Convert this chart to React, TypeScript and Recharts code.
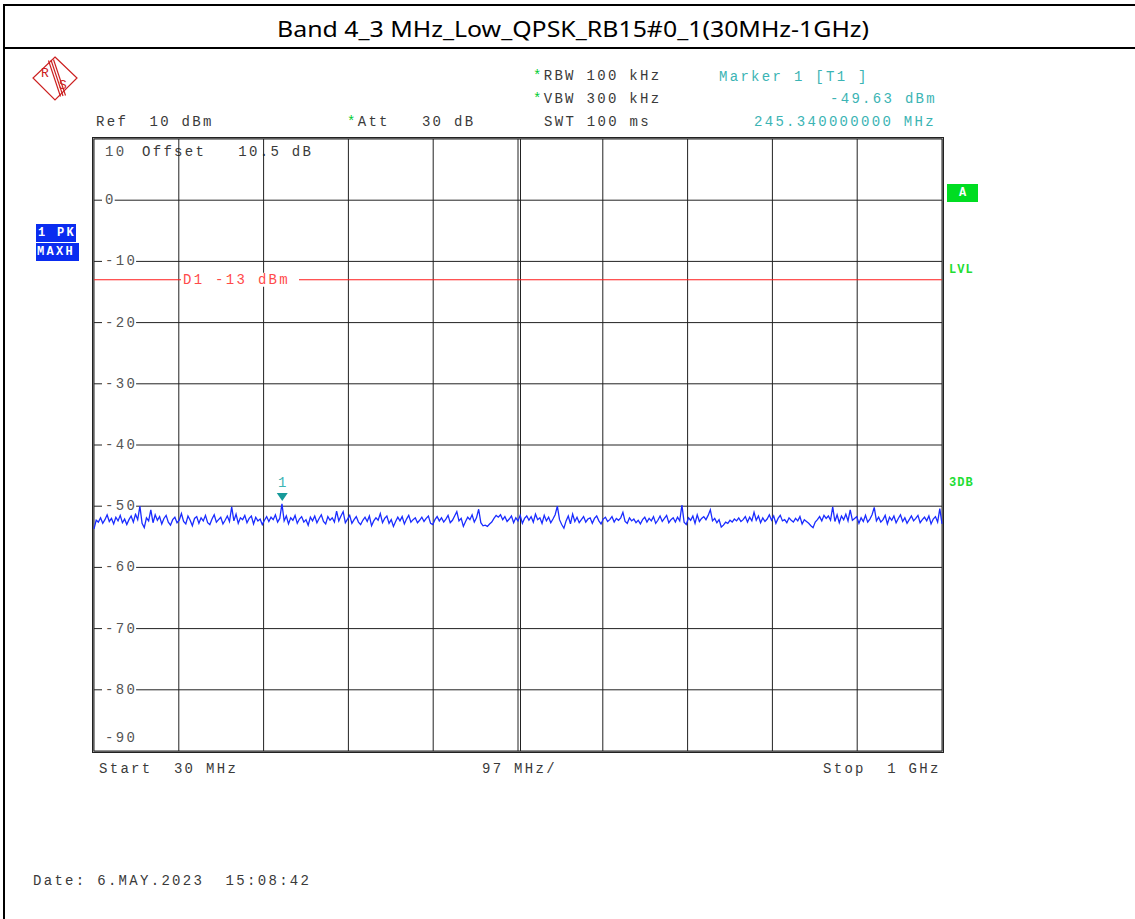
import React from 'react';
import { LineChart, Line, XAxis, YAxis, CartesianGrid, ReferenceLine, ReferenceDot } from 'recharts';

// sweep settings (MHz)
const FREQ_START = 30;
const FREQ_STOP = 1000;
const FREQ_STEP = 2.5;

// max-hold trace in dBm, every 2.5 MHz from 30 MHz
const levels = [
  -53.7, -52.3, -52.6, -51.9, -52.8, -52.2, -51.4, -52.5, -52.0, -52.9,
  -51.8, -52.4, -51.5, -52.7, -52.1, -53.0, -52.2, -51.6, -52.6, -51.3,
  -52.2, -50.0, -52.8, -53.5, -51.9, -52.4, -50.6, -52.7, -51.4, -52.3,
  -51.7, -52.9, -52.0, -51.5, -52.6, -53.1, -52.2, -51.8, -52.7, -52.3,
  -51.2, -52.5, -52.9, -51.6, -52.3, -53.2, -52.0, -51.7, -52.8, -51.9,
  -52.4, -51.5, -52.7, -53.0, -52.1, -51.4, -52.6, -52.2, -51.8, -52.9,
  -52.3, -51.6, -52.5, -50.1, -52.4, -51.3, -52.8, -51.9, -52.2, -51.5,
  -52.7, -52.0, -51.6, -52.9, -51.8, -52.4, -52.1, -53.0, -52.3, -51.7,
  -52.5, -51.8, -52.2, -51.4, -52.6, -52.0, -49.63, -52.4, -51.6, -52.9,
  -51.9, -52.3, -51.5, -52.8, -52.1, -51.7, -52.6, -52.2, -53.1, -51.8,
  -52.4, -51.6, -52.7, -52.0, -51.4, -52.5, -52.9, -51.7, -52.3, -51.9,
  -52.6, -50.8, -52.4, -51.6, -50.9, -52.7, -52.1, -51.5, -52.8, -52.2,
  -51.7, -52.6, -53.0, -52.3, -51.8, -52.5, -51.6, -53.2, -52.4, -51.9,
  -52.3, -51.2, -52.7, -52.0, -51.6, -52.8, -52.2, -53.3, -52.5, -51.8,
  -52.4, -51.7, -52.9, -52.1, -51.5, -52.6, -52.2, -51.9, -52.7, -52.3,
  -51.8, -52.5, -52.0, -51.6, -52.8, -53.0, -52.2, -51.7, -52.4, -51.9,
  -52.6, -52.1, -51.5, -52.7, -52.3, -51.6, -50.9, -52.4, -52.0, -53.3,
  -52.5, -51.8, -52.2, -51.4, -52.6, -51.9, -50.5, -52.7, -53.2, -53.1,
  -53.3, -52.9, -52.6, -52.0, -51.5, -51.8, -51.4, -52.2, -51.7, -52.5,
  -52.1, -51.6, -52.7, -51.9, -52.4, -51.5, -52.8, -52.0, -51.6, -52.3,
  -51.7, -52.6, -51.3, -52.2, -51.9, -52.8, -51.5, -52.4, -51.8, -52.7,
  -52.1, -51.4, -50.0, -52.2, -53.0, -53.6, -52.4, -51.6, -52.9, -51.3,
  -52.5, -51.8, -52.7, -52.2, -51.7, -52.6, -52.1, -51.9, -52.8, -52.0,
  -51.6, -52.4, -52.9, -52.1, -51.8, -52.5, -52.2, -51.7, -52.6, -52.0,
  -52.3, -51.9, -51.0, -52.5, -52.8, -51.9, -52.4, -52.1, -52.7, -52.3,
  -52.9, -52.2, -51.8, -52.6, -52.0, -52.4, -51.7, -52.8, -52.3, -51.6,
  -52.5, -52.0, -51.5, -52.7, -52.2, -51.9, -52.6, -51.8, -52.4, -49.8,
  -52.6, -53.0, -51.9, -52.3, -51.6, -52.8, -51.4, -52.5, -52.0, -51.7,
  -52.2, -51.5, -50.6, -52.4, -52.0, -52.7, -52.2, -53.4, -53.1, -52.6,
  -52.8, -52.3, -52.6, -52.1, -52.4, -51.9, -52.5, -52.2, -51.7, -52.6,
  -51.8, -52.4, -51.0, -52.3, -51.6, -52.7, -51.9, -52.5, -52.1, -51.4,
  -52.3, -51.6, -52.8, -52.0, -51.5, -52.4, -52.2, -52.7, -51.9, -52.3,
  -52.6, -52.0, -52.4, -51.7, -52.9, -52.2, -52.5, -52.8, -53.2, -53.5,
  -52.6, -52.2, -51.7, -52.4, -51.5, -52.0, -51.6, -52.3, -50.1, -52.5,
  -51.4, -52.7, -51.6, -52.2, -51.3, -52.4, -50.6, -52.3, -52.0, -51.7,
  -52.8, -51.9, -52.5, -51.5, -52.6, -52.1, -51.4, -50.2, -52.4, -51.8,
  -52.6, -52.2, -51.5, -52.9, -51.8, -52.3, -51.6, -52.7, -52.0, -51.4,
  -52.5, -51.9, -52.8, -52.2, -51.6, -52.4, -52.0, -51.5, -52.7, -52.2,
  -51.8, -52.4, -51.6, -52.9, -52.1, -51.7, -52.6, -50.4, -52.9,
];

const xTicks = [30, 127, 224, 321, 418, 515, 612, 709, 806, 903, 1000];
const yTicks = [-90, -80, -70, -60, -50, -40, -30, -20, -10, 0, 10];

const displayLine = -13; // D1
const marker = { freq: 245.34, level: -49.63 };

const trace = levels.map((v, i) => ({ f: FREQ_START + i * FREQ_STEP, v }));

const W = 1135;
const H = 919;
const M = { top: 139, right: 193, bottom: 168, left: 94 };
const PW = W - M.left - M.right;
const PH = H - M.top - M.bottom;

const MONO = '"Liberation Mono", "DejaVu Sans Mono", monospace';
const mono: React.CSSProperties = { fontFamily: MONO, fontSize: 14, letterSpacing: '2.3px', whiteSpace: 'pre' };
const PITCH = 10.7;
const GRAY = '#3a3a3a';
const CYAN = '#3bb4b4';
const GREEN = '#22dd33';
const RS_RED = '#cc2020';

const LevelTick = (props: any) => {
  const { y, payload } = props;
  const v = payload.value as number;
  const label = String(v);
  const yy = v === 10 ? y + 13 : v === -90 ? y - 13 : y;
  const x = M.left + 11;
  return (
    <g>
      <rect x={x - 3} y={yy - 7} width={label.length * PITCH + 2} height={14} fill="#fff" />
      <text x={x} y={yy} dominantBaseline="central" fill="#555" style={mono}>{label}</text>
    </g>
  );
};

const D1Label = (props: any) => {
  const { viewBox } = props;
  const x = viewBox.x + 89;
  const y = viewBox.y;
  return (
    <g>
      <rect x={x - 2} y={y - 7} width={118} height={14} fill="#fff" />
      <text x={x} y={y} dominantBaseline="central" fill="#ff4a4a" style={mono}>D1 -13 dBm</text>
    </g>
  );
};

const MarkerShape = (props: any) => {
  const { cx, cy } = props;
  return (
    <g>
      <polygon points={`${cx - 5.5},${cy - 11} ${cx + 5.5},${cy - 11} ${cx},${cy - 3}`} fill="#169a9a" />
      <text x={cx} y={cy - 21} textAnchor="middle" dominantBaseline="central" fill={CYAN} style={{ ...mono, letterSpacing: 0 }}>1</text>
    </g>
  );
};

const Txt = ({ x, y, children, fill = GRAY }: { x: number; y: number; children: React.ReactNode; fill?: string }) => (
  <text x={x} y={y} dominantBaseline="central" fill={fill} style={mono}>{children}</text>
);

const Backdrop = () => (
  <svg width={W} height={H} style={{ position: 'absolute', left: 0, top: 0 }}>
    {/* page frame and title */}
    <line x1={3} y1={5} x2={W} y2={5} stroke="#000" strokeWidth={2} />
    <line x1={4} y1={4} x2={4} y2={H} stroke="#000" strokeWidth={2} />
    <line x1={3} y1={48} x2={W} y2={48} stroke="#000" strokeWidth={2} />
    <text x={277} y={28} dominantBaseline="central" textLength={592} lengthAdjust="spacingAndGlyphs"
      style={{ fontFamily: '"Noto Sans", "Open Sans", sans-serif', fontSize: 22 }} fill="#000">
      Band 4_3 MHz_Low_QPSK_RB15#0_1(30MHz-1GHz)
    </text>

    {/* R&S logo */}
    <g stroke={RS_RED} fill="none" strokeWidth={1.2}>
      <polygon points="55,57 77,78 55,100 33,78" />
      <line x1={51} y1={60} x2={63} y2={96} />
      <line x1={53.5} y1={59.5} x2={65.5} y2={95.5} />
      <line x1={48.5} y1={60.5} x2={60.5} y2={96.5} />
    </g>
    <text x={45} y={73} textAnchor="middle" dominantBaseline="central" fill={RS_RED} style={{ fontFamily: MONO, fontSize: 13 }}>R</text>
    <text x={63} y={85} textAnchor="middle" dominantBaseline="central" fill={RS_RED} style={{ fontFamily: MONO, fontSize: 13 }}>S</text>

    {/* instrument settings */}
    <Txt x={533} y={76}><tspan fill="#00cc33">*</tspan>RBW 100 kHz</Txt>
    <Txt x={533} y={99}><tspan fill="#00cc33">*</tspan>VBW 300 kHz</Txt>
    <Txt x={544} y={122}>SWT 100 ms</Txt>
    <Txt x={347} y={122}><tspan fill="#00cc33">*</tspan>Att   30 dB</Txt>
    <Txt x={96} y={122}>Ref  10 dBm</Txt>
    <Txt x={719} y={77} fill={CYAN}>Marker 1 [T1 ]</Txt>
    <Txt x={830} y={99} fill={CYAN}>-49.63 dBm</Txt>
    <Txt x={754} y={122} fill={CYAN}>245.340000000 MHz</Txt>
    <Txt x={142} y={152}>Offset   10.5 dB</Txt>

    {/* trace / detector boxes */}
    <rect x={36} y={224} width={40} height={18} fill="#0a2cf0" />
    <rect x={36} y={243} width={43} height={18} fill="#0a2cf0" />
    <text x={38} y={233} dominantBaseline="central" fill="#fff" style={{ fontFamily: MONO, fontSize: 12, fontWeight: 700, letterSpacing: '2.3px', whiteSpace: 'pre' }}>1 PK</text>
    <text x={37} y={252} dominantBaseline="central" fill="#fff" style={{ fontFamily: MONO, fontSize: 12, fontWeight: 700, letterSpacing: '2.3px' }}>MAXH</text>

    <rect x={947} y={184} width={31} height={18} fill="#00dd22" />
    <text x={962.5} y={193} textAnchor="middle" dominantBaseline="central" fill="#fff" style={{ fontFamily: MONO, fontSize: 12, fontWeight: 700 }}>A</text>
    <text x={949} y={270} dominantBaseline="central" fill={GREEN} style={{ fontFamily: MONO, fontSize: 12, fontWeight: 700, letterSpacing: '1px' }}>LVL</text>
    <text x={949} y={483} dominantBaseline="central" fill={GREEN} style={{ fontFamily: MONO, fontSize: 12, fontWeight: 700, letterSpacing: '1px' }}>3DB</text>

    {/* screen frame */}
    <rect x={92.5} y={137.5} width={PW + 3} height={PH + 3} fill="none" stroke="#222" />
    <rect x={93.5} y={138.5} width={PW + 1} height={PH + 1} fill="none" stroke="#999" />
    <line x1={M.left + PW / 2 + 2.5} y1={M.top} x2={M.left + PW / 2 + 2.5} y2={M.top + PH} stroke="#222" />

    {/* span info */}
    <Txt x={99} y={769}>Start  30 MHz</Txt>
    <Txt x={482} y={769}>97 MHz/</Txt>
    <Txt x={823} y={769}>Stop  1 GHz</Txt>
    <Txt x={33} y={881}>Date: 6.MAY.2023  15:08:42</Txt>
  </svg>
);

export default function App() {
  return (
    <div style={{ position: 'absolute', left: 0, top: 0, width: W, height: H, background: '#fff' }}>
      <Backdrop />
      <div style={{ position: 'absolute', left: 0, top: 0 }}>
        <LineChart width={W} height={H} data={trace} margin={M}>
          <CartesianGrid stroke="#222" strokeWidth={1} />
          <XAxis dataKey="f" type="number" domain={[FREQ_START, FREQ_STOP]} ticks={xTicks} hide />
          <YAxis type="number" domain={[-90, 10]} ticks={yTicks} mirror axisLine={false} tickLine={false}
            tick={<LevelTick />} interval={0} />
          <ReferenceLine y={displayLine} stroke="#ff1a1a" strokeWidth={1} label={<D1Label />} />
          <Line dataKey="v" stroke="#1a2cff" strokeWidth={1.3} dot={false} isAnimationActive={false} />
          <ReferenceDot x={marker.freq} y={marker.level} shape={<MarkerShape />} />
        </LineChart>
      </div>
    </div>
  );
}
